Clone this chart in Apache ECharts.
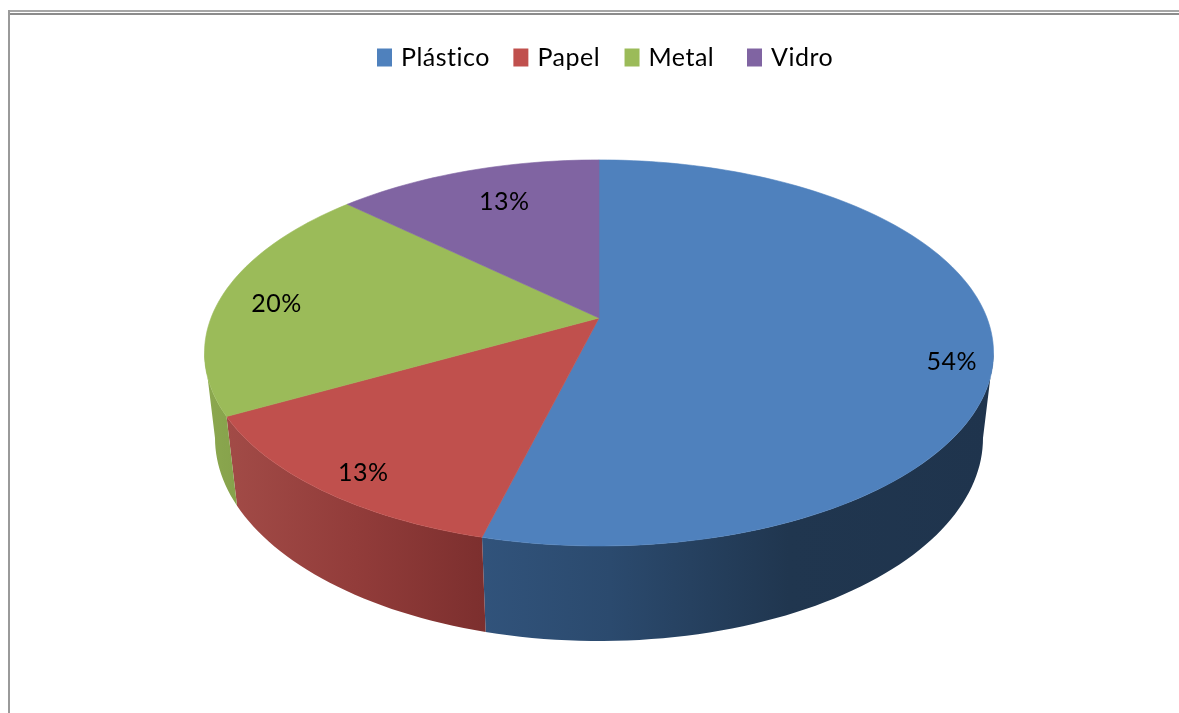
<!DOCTYPE html>
<html>
<head>
<meta charset="utf-8">
<style>html,body{margin:0;padding:0;background:#fff}#chart{width:1179px;height:713px}</style>
<script src="https://cdn.jsdelivr.net/npm/echarts@6/dist/echarts.min.js"></script>
</head>
<body>
<div id="chart"></div>
<script>
// Composition of the collected material, in percent
const categories = ['Plástico', 'Papel', 'Metal', 'Vidro'];
const shares = [54, 13, 20, 13];
const topColors = ['#4F81BD', '#C0504D', '#9BBB59', '#8064A2'];

// Side wall shading, left to right across the visible part of each slice
const wallStops = [
  [[0, '#31537B'], [0.25, '#2B4A6E'], [0.6, '#20364F'], [1, '#1F344D']],
  [[0, '#A24B47'], [0.5, '#923C3A'], [1, '#7C2F2E']],
  [[0, '#8CA84F'], [1, '#86A24B']],
  [[0, '#66507F'], [1, '#66507F']]
];
// Hand placement of the percent labels relative to their slice
const labelNudges = [[-1, 22], [10, 3], [17, 7], [26, 18]];

// Perspective disc: unit circle (u, v), with h = 0 on the top face and h = 1 on the base
const view = { cx: 599, cy: 318, R: 388, S: 186.7, T: 86.4, k: 0.181, m: 0.0265 };
const total = shares.reduce((a, b) => a + b, 0);

function project(u, v, h) {
  const d = 1 - view.k * v + view.m * h;
  return [view.cx + view.R * u / d, view.cy + (view.S * v + view.T * h) / d];
}
// Angle is measured clockwise from twelve o'clock
function onRim(deg, h, r) {
  const a = deg * Math.PI / 180, rr = r === undefined ? 1 : r;
  return project(rr * Math.sin(a), -rr * Math.cos(a), h);
}
function arc(from, to, h) {
  const pts = [], n = Math.max(2, Math.ceil(Math.abs(to - from) / 1.5));
  for (let i = 0; i <= n; i++) pts.push(onRim(from + (to - from) * i / n, h));
  return pts;
}
function sliceStart(index) {
  return shares.slice(0, index).reduce((a, b) => a + b, 0) / total * 360;
}

const silhouette = Math.acos(-view.k / (1 + view.m)) * 180 / Math.PI;
const wallRange = [silhouette, 360 - silhouette];

function renderSlice(index) {
  return function (params, api) {
    const start = sliceStart(index);
    const end = start + api.value(0) / total * 360;
    const children = [];
    const wallFrom = Math.max(start, wallRange[0]);
    const wallTo = Math.min(end, wallRange[1]);
    if (wallTo > wallFrom) {
      const upper = arc(wallFrom, wallTo, 0);
      const lower = arc(wallFrom, wallTo, 1).reverse();
      const outline = upper.concat(lower);
      const xs = outline.map(p => p[0]);
      const x0 = Math.min.apply(null, xs), x1 = Math.max.apply(null, xs);
      children.push({
        type: 'polygon',
        shape: { points: outline },
        style: {
          fill: new echarts.graphic.LinearGradient(x0, 0, x1, 0,
            wallStops[index].map(s => ({ offset: s[0], color: s[1] })), true)
        }
      });
    }
    children.push({
      type: 'polygon',
      shape: { points: [project(0, 0, 0)].concat(arc(start, end, 0)) },
      style: { fill: topColors[index], stroke: topColors[index], lineWidth: 0.6 }
    });
    const anchor = onRim((start + end) / 2, 0, 0.9);
    children.push({
      type: 'text',
      x: anchor[0] + labelNudges[index][0],
      y: anchor[1] + labelNudges[index][1],
      style: {
        text: api.value(0) + '%',
        fill: '#000',
        font: '25px Lato',
        textAlign: 'center',
        textVerticalAlign: 'middle'
      }
    });
    return { type: 'group', children: children };
  };
}

const legendBase = {
  top: 45,
  padding: 0,
  itemWidth: 15,
  itemHeight: 18,
  itemGap: 27,
  icon: 'rect',
  textStyle: { fontFamily: 'Lato', fontSize: 25, color: '#000', padding: [0, 0, 0, 4] }
};

const chart = echarts.init(document.getElementById('chart'), null, { renderer: 'canvas' });
// Slightly open tracking for all canvas text, as in the chart's original typeface
chart.getZr().painter.getLayer(0).ctx.letterSpacing = '0.5px';
chart.setOption({
  animation: false,
  backgroundColor: '#fff',
  legend: [
    Object.assign({}, legendBase, { left: 377, data: categories.slice(0, 3) }),
    Object.assign({}, legendBase, { left: 747, data: categories.slice(3) })
  ],
  graphic: [
    { type: 'rect', shape: { x: 8, y: 10, width: 1171, height: 2 }, style: { fill: '#a6a6a6' } },
    { type: 'rect', shape: { x: 8, y: 13, width: 1171, height: 2 }, style: { fill: '#8c8c8c' } },
    { type: 'rect', shape: { x: 8, y: 10, width: 2, height: 703 }, style: { fill: '#9a9a9a' } }
  ],
  series: categories.map((name, i) => ({
    type: 'custom',
    name: name,
    coordinateSystem: 'none',
    silent: true,
    clip: false,
    itemStyle: { color: topColors[i] },
    renderItem: renderSlice(i),
    data: [[shares[i]]]
  }))
});
</script>
</body>
</html>
